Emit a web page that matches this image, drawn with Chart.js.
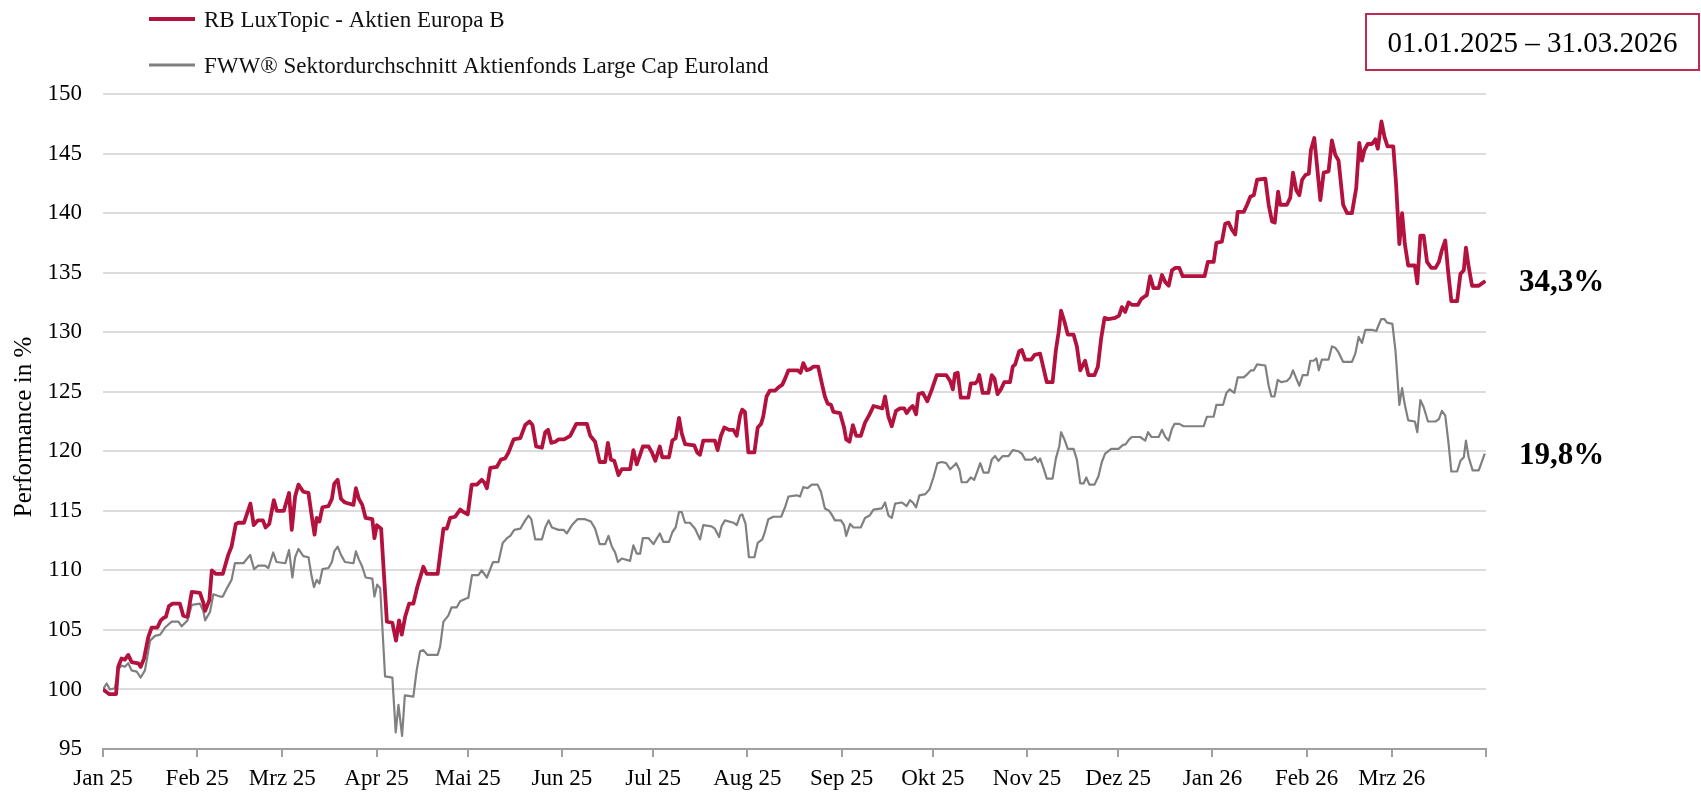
<!DOCTYPE html>
<html>
<head>
<meta charset="utf-8">
<script src="https://cdn.jsdelivr.net/npm/chart.js@4"></script>
<style>
html,body{margin:0;padding:0;background:#fff;}
#wrap{position:relative;width:1701px;height:793px;}
canvas{display:block;}
</style>
</head>
<body>
<div id="wrap"><canvas id="c" width="1701" height="793"></canvas></div>
<script>
// ---- DATA (day index since 01.01.2025, indexed performance) ----
const fundName = "RB LuxTopic - Aktien Europa B";
const sectorName = "FWW® Sektordurchschnitt Aktienfonds Large Cap Euroland";
const periodLabel = "01.01.2025 – 31.03.2026";
const endLabels = ["34,3%", "19,8%"];

const fundDays = [0,2.1,4.3,5.0,6.1,7.2,8.3,9.4,11.6,12.4,13.5,14.9,16.0,17.9,19.0,19.9,20.7,21.7,22.9,25.3,26.4,27.8,29.2,31.9,33.0,33.6,35.0,35.8,37.2,39.4,41.2,42.3,43.7,44.5,46.4,48.5,49.6,51.0,52.6,53.5,54.7,56.2,57.2,59.5,
61.2,62.1,63.2,64.3,65.9,67.6,68.7,69.6,70.3,71.2,72.2,74.2,75.3,76.1,77.2,78.3,79.6,82.4,83.2,84.2,85.3,86.4,88.6,89.3,90.1,91.5,93.4,95.2,96.4,97.4,98.3,99.4,100.7,102.1,103.4,105.4,106.5,110.1,112.0,113.1,114.2,115.8,117.5,118.6,120.0,121.3,
123.0,124.6,125.4,126.3,127.4,129.6,130.9,132.3,133.4,135.1,137.3,138.9,140.3,141.3,142.5,144.4,145.5,146.4,147.5,148.8,149.9,151.7,153.7,155.7,159.2,160.3,161.9,163.4,165.2,166.1,167.1,168.2,169.6,170.7,173.4,174.5,175.6,176.7,177.6,179.5,180.6,181.7,
183.2,184.0,186.2,187.3,188.4,189.5,190.4,191.5,194.5,195.5,196.4,197.5,201.3,202.2,203.3,204.4,206.0,207.4,208.5,209.6,210.3,211.2,212.3,214.3,215.4,216.5,217.2,218.3,219.4,221.1,222.4,223.5,224.4,225.5,228.5,229.5,230.4,231.5,232.6,233.7,235.3,236.4,237.5,238.4,239.5,240.3,242.5,243.8,244.5,
245.6,246.7,247.8,249.3,250.7,252.2,253.5,256.4,257.3,258.4,259.5,260.9,262.2,263.6,264.4,265.5,266.4,267.5,268.3,269.7,271.2,272.7,274.3,277.4,278.7,279.6,280.3,281.2,282.2,284.7,285.5,286.9,287.7,288.3,289.4,291.3,292.4,293.3,294.3,295.4,296.5,298.4,299.3,300.1,301.4,302.3,303.4,
305.4,306.5,308.3,309.4,310.5,312.4,313.5,314.4,315.2,316.3,317.4,319.3,320.4,321.5,323.1,324.2,326.2,327.3,328.4,329.5,330.8,333.0,334.3,335.2,336.3,337.4,338.5,340.5,341.6,342.7,343.4,344.5,345.6,347.3,348.4,349.5,350.6,351.7,352.8,354.1,355.2,362.4,363.5,365.4,
366.3,368.1,369.2,370.3,371.4,372.5,373.3,375.3,376.4,377.5,378.6,379.7,382.4,383.5,384.6,385.5,386.6,387.3,389.5,390.6,391.5,392.6,393.6,394.5,395.6,396.7,397.4,398.5,399.4,400.5,401.6,403.2,404.3,405.4,406.5,408.0,409.3,410.9,412.3,413.3,414.2,415.0,416.1,417.5,418.6,419.4,420.6,421.6,422.6,424.5,
425.4,426.5,427.4,428.3,429.4,431.6,432.4,433.4,434.5,435.6,437.0,438.4,439.5,440.5,441.6,442.5,443.6,445.5,446.6,447.7,448.4,449.3,450.4,452.6,453.7,454.8];
const fundValues = [100.0,99.6,99.6,101.9,102.6,102.5,102.9,102.3,102.2,101.9,102.6,104.4,105.2,105.2,105.8,106.0,106.1,107.0,107.2,107.2,106.2,106.1,108.2,108.1,107.3,106.6,107.5,110.0,109.7,109.7,111.3,112.0,113.9,114.0,114.0,115.6,113.8,114.2,114.2,113.6,113.9,115.9,115.0,115.0,
116.5,113.4,116.2,117.2,116.6,116.5,114.5,113.0,114.4,114.1,115.3,115.4,116.0,117.3,117.6,116.0,115.7,115.5,116.9,116.0,115.5,114.4,114.3,112.7,113.8,113.5,105.7,105.6,104.1,105.8,104.6,106.1,107.2,107.2,108.6,110.3,109.7,109.7,113.5,113.5,114.4,114.5,115.1,114.9,114.7,117.2,
117.2,117.6,117.4,116.9,118.6,118.7,119.3,119.4,119.9,121.0,121.1,122.2,122.5,122.2,120.4,120.3,121.6,121.8,120.7,120.8,121.0,121.0,121.3,122.3,122.3,121.3,120.8,119.1,119.1,120.7,119.3,119.2,118.0,118.5,118.5,120.1,118.9,119.7,120.4,120.4,119.9,119.2,
120.4,119.5,119.5,120.9,121.1,122.8,121.5,120.6,120.5,119.9,119.7,120.9,120.9,120.1,121.3,122.0,121.8,121.8,121.3,123.0,123.5,123.3,119.9,119.9,122.0,122.3,122.9,124.6,125.1,125.1,125.4,125.6,126.1,126.8,126.8,126.6,127.4,126.8,126.9,127.1,127.1,125.8,124.6,124.0,123.9,123.3,123.2,122.0,121.0,
120.8,122.2,121.3,121.3,122.4,123.1,123.8,123.6,124.6,122.9,122.1,123.4,123.6,123.6,123.2,123.6,123.8,123.1,124.8,124.9,124.2,125.2,126.4,126.4,125.9,125.2,126.5,126.6,124.5,124.5,125.7,125.7,125.9,126.4,124.9,124.9,126.4,126.1,124.8,125.2,125.8,125.8,127.1,127.3,128.4,128.5,127.7,
127.7,128.1,128.2,127.0,125.8,125.8,128.5,130.0,131.8,130.9,129.8,129.8,128.8,126.8,127.6,126.4,126.4,127.1,129.5,131.2,131.1,131.2,131.4,132.1,131.7,132.5,132.3,132.3,132.8,133.0,133.1,134.7,133.7,133.7,134.8,134.2,133.9,135.2,135.4,135.4,134.7,134.7,135.9,135.9,
137.5,137.6,139.1,139.2,138.6,138.2,140.1,140.1,140.7,141.4,141.5,142.8,142.9,140.7,139.3,139.2,141.8,140.7,140.7,141.3,143.4,141.9,141.5,142.8,143.2,143.3,145.3,146.3,144.0,141.1,143.4,143.5,146.1,144.9,144.4,140.7,140.0,140.0,142.1,145.9,144.4,145.3,145.8,145.8,146.2,145.4,147.7,146.4,145.6,145.6,
142.5,137.4,140.0,137.4,135.6,135.6,134.1,138.1,138.1,135.9,135.4,135.4,135.9,136.9,137.7,135.2,132.6,132.6,134.9,135.2,137.1,135.5,133.9,133.9,134.1,134.3];

const sectorDays = [0,1.2,2.3,3.9,5.0,6.1,7.2,8.3,9.4,11.1,12.4,13.8,15.5,17.1,18.8,20.4,22.6,24.8,25.9,27.8,29.2,31.9,33.0,33.6,35.2,36.3,38.5,39.4,41.2,42.3,43.4,46.2,48.4,49.7,51.1,53.3,54.4,56.0,57.1,60.0,
61.2,62.3,63.2,64.3,65.9,67.6,68.5,69.4,70.3,71.2,72.2,74.2,75.3,76.1,77.2,78.3,79.6,82.4,83.2,84.2,85.3,86.4,88.6,89.3,90.2,91.2,92.8,95.2,96.3,97.2,98.4,99.3,102.1,103.2,104.3,105.4,106.8,110.1,110.9,112.0,113.6,114.7,116.4,117.5,119.1,120.2,
121.4,123.5,124.6,126.3,128.3,130.1,131.5,132.9,134.0,135.3,137.3,138.9,140.0,140.9,142.2,144.4,145.5,146.6,147.7,149.9,151.5,152.6,154.3,156.1,158.6,160.5,161.9,163.4,165.2,166.3,167.4,168.5,169.4,170.7,173.4,174.5,175.6,176.7,177.6,179.5,181.1,
183.2,184.3,186.2,187.3,188.4,189.5,190.4,191.5,193.1,194.8,196.4,197.5,200.2,201.3,202.7,203.5,204.6,207.4,208.5,209.6,210.3,211.4,212.5,214.3,215.4,216.9,217.6,218.9,220.5,223.1,224.4,225.5,228.2,229.3,230.4,231.8,233.2,235.1,236.2,237.5,238.9,239.7,240.8,242.8,243.8,244.5,
245.8,246.9,249.3,250.7,252.2,253.5,256.2,257.3,258.4,259.5,260.6,262.8,264.4,265.5,266.4,267.5,268.6,270.5,271.9,273.2,274.5,276.0,277.4,278.7,279.6,280.7,281.8,282.5,284.2,285.5,286.6,287.5,288.6,289.7,291.3,292.4,293.5,294.6,296.0,297.9,299.3,301.2,302.3,303.4,
305.6,306.7,307.6,308.3,309.4,310.5,312.4,313.5,314.6,315.2,316.3,317.4,319.3,320.4,321.5,322.6,323.5,324.5,326.2,327.5,328.6,329.7,331.7,334.1,335.4,336.5,337.6,338.5,341.2,342.9,343.8,344.9,347.3,348.4,349.5,350.6,351.7,352.5,354.1,355.5,362.1,363.2,365.4,
366.3,368.5,369.6,370.7,372.2,373.3,375.3,376.6,377.7,378.6,379.7,382.4,383.5,384.4,385.4,386.5,387.6,389.5,390.6,391.5,392.6,393.6,394.7,396.3,397.2,398.3,399.2,400.0,401.0,403.2,404.3,405.4,406.5,408.0,410.9,412.0,413.1,414.2,415.3,417.5,418.9,419.7,420.5,421.6,422.4,424.2,
425.2,426.5,427.4,428.3,429.4,431.6,432.4,433.4,434.5,435.9,438.4,439.5,440.5,441.6,442.7,443.6,445.5,446.6,447.7,448.4,449.3,450.6,452.6,454.6];
const sectorValues = [100.0,100.5,100.0,100.1,101.7,102.0,101.9,102.2,101.6,101.5,101.0,101.6,104.1,104.5,104.6,105.2,105.7,105.7,105.3,105.8,107.1,107.2,106.6,105.8,106.5,108.0,107.8,107.8,108.7,109.2,110.6,110.6,111.3,110.1,110.4,110.4,110.2,111.5,110.7,110.6,
111.7,109.4,111.1,111.8,111.2,111.1,109.7,108.6,109.2,108.9,110.1,110.2,110.7,111.6,112.0,111.3,110.7,110.6,111.6,110.9,110.3,109.4,109.3,107.8,108.8,108.5,101.1,101.0,96.4,98.7,96.1,99.5,99.4,101.6,103.2,103.3,102.9,102.9,103.6,105.7,106.2,106.9,106.9,107.4,107.6,107.7,
109.6,109.6,110.0,109.4,110.7,110.7,112.3,112.7,112.9,113.4,113.5,114.2,114.6,114.3,112.6,112.6,113.6,114.2,113.6,113.4,113.4,113.1,113.8,114.3,114.3,114.1,113.5,112.2,112.2,112.9,112.0,111.5,110.7,111.0,110.8,112.1,111.4,111.4,112.7,112.7,112.2,
113.1,112.4,112.4,113.2,113.6,114.9,114.9,114.0,114.0,113.5,112.6,113.8,113.7,113.5,112.8,113.7,114.2,114.0,113.8,114.6,114.7,113.9,111.1,111.1,112.3,112.6,113.1,114.3,114.5,114.5,115.3,116.2,116.3,116.2,117.0,116.9,117.2,117.2,116.6,115.2,115.0,114.7,114.2,114.2,113.8,112.9,
113.9,113.6,113.6,114.4,114.6,115.1,115.2,115.7,114.6,114.4,115.6,115.7,115.4,115.9,115.7,115.3,116.3,116.4,116.8,117.8,119.0,119.1,119.0,118.5,118.7,119.0,118.4,117.4,117.4,117.8,117.6,118.2,119.0,118.2,118.2,119.3,119.6,119.2,119.6,119.6,120.1,120.0,119.8,119.3,
119.3,119.5,119.1,119.4,118.6,117.7,117.7,119.4,120.4,121.6,121.0,120.2,120.2,119.3,117.3,117.3,117.8,117.2,117.2,117.9,119.1,119.8,120.2,120.2,120.5,120.6,121.0,121.2,121.2,120.9,121.6,121.2,121.2,121.8,121.2,120.9,121.9,122.3,122.3,122.1,122.1,122.9,122.9,
123.9,123.9,124.9,125.2,124.9,126.2,126.2,126.5,126.8,126.8,127.3,127.2,125.5,124.6,124.6,126.0,125.8,125.9,126.2,126.8,126.1,125.5,126.4,126.4,127.6,127.6,127.8,126.8,127.7,127.7,128.8,128.7,128.3,127.5,127.5,128.2,129.6,129.1,130.2,130.2,130.1,130.6,131.1,131.1,130.8,130.7,
128.5,123.9,125.3,123.9,122.6,122.5,121.6,124.3,123.7,122.5,122.5,122.7,123.4,123.0,120.6,118.3,118.3,119.2,119.5,120.9,119.5,118.4,118.4,119.8];

const monthTickDays = [0,31,59,90,120,151,181,212,243,273,304,334,365,396,424,455];
const monthTickLabels = ["Jan 25","Feb 25","Mrz 25","Apr 25","Mai 25","Jun 25","Jul 25","Aug 25","Sep 25","Okt 25","Nov 25","Dez 25","Jan 26","Feb 26","Mrz 26",""];
const yMin = 95, yMax = 150, yStep = 5;
const yTitle = "Performance in %";

// ---- STYLE ----
const RED = "#B4123E";
const GREY = "#808080";
const SERIF = "'Liberation Serif','Times New Roman',Times,serif";

const toPoints = (xs, ys) => xs.map((d, i) => ({x: d, y: ys[i]}));

const overlay = {
  id: "overlay",
  afterDraw(chart) {
    const ctx = chart.ctx;
    const a = chart.chartArea;
    const ys = chart.scales.y;
    ctx.save();
    // legend
    const items = [[fundName, RED, 4, 19], [sectorName, GREY, 3, 65]];
    ctx.font = "23px " + SERIF;
    ctx.textBaseline = "middle";
    ctx.textAlign = "left";
    items.forEach(([txt, col, w, y]) => {
      ctx.strokeStyle = col; ctx.lineWidth = w; ctx.lineCap = "butt";
      ctx.beginPath(); ctx.moveTo(149, y); ctx.lineTo(195, y); ctx.stroke();
      ctx.fillStyle = "#111";
      ctx.fillText(txt, 204, y + 2);
    });
    // period box
    ctx.strokeStyle = "#BE2A50"; ctx.lineWidth = 2;
    ctx.strokeRect(1366, 14, 333, 56);
    ctx.font = "29px " + SERIF;
    ctx.fillStyle = "#000";
    ctx.textAlign = "center";
    ctx.fillText(periodLabel, 1532.5, 44);
    // y-axis title
    ctx.save();
    ctx.translate(24, 427);
    ctx.rotate(-Math.PI / 2);
    ctx.font = "25px " + SERIF;
    ctx.fillText(yTitle, 0, 0);
    ctx.restore();
    // end labels
    ctx.font = "bold 31px " + SERIF;
    ctx.textAlign = "left";
    const lasts = [fundValues[fundValues.length - 1], sectorValues[sectorValues.length - 1]];
    lasts.forEach((v, i) => {
      ctx.fillText(endLabels[i], a.right + 33, ys.getPixelForValue(v) + 2);
    });
    ctx.restore();
  }
};

new Chart(document.getElementById("c"), {
  type: "line",
  data: {
    datasets: [
      {label: fundName, data: toPoints(fundDays, fundValues), borderColor: RED, borderWidth: 3.8, pointRadius: 0, tension: 0, borderJoinStyle: "round"},
      {label: sectorName, data: toPoints(sectorDays, sectorValues), borderColor: GREY, borderWidth: 2.2, pointRadius: 0, tension: 0, borderJoinStyle: "round"}
    ]
  },
  options: {
    responsive: false,
    animation: false,
    devicePixelRatio: 1,
    layout: {padding: {top: 94, right: 215, left: 0, bottom: 0}},
    plugins: {legend: {display: false}, tooltip: {enabled: false}},
    scales: {
      x: {
        type: "linear", min: 0, max: 455,
        afterBuildTicks(s) { s.ticks = monthTickDays.map(v => ({value: v})); },
        afterFit(s) { s.height = 44; },
        ticks: {
          autoSkip: false, maxRotation: 0, padding: 8,
          color: "#000", font: {family: SERIF, size: 23},
          callback: (v, i) => monthTickLabels[i]
        },
        grid: {drawOnChartArea: false, drawTicks: true, tickLength: 8, color: "#a0a0a0", lineWidth: 2},
        border: {display: true, color: "#a0a0a0", width: 2}
      },
      y: {
        min: yMin, max: yMax,
        afterFit(s) { s.width = 103; },
        ticks: {stepSize: yStep, padding: 21, color: "#000", font: {family: SERIF, size: 23}},
        grid: {color: "#dcdcdc", lineWidth: 2, drawTicks: false},
        border: {display: false},
        title: {display: false}
      }
    }
  },
  plugins: [overlay]
});
</script>
</body>
</html>
